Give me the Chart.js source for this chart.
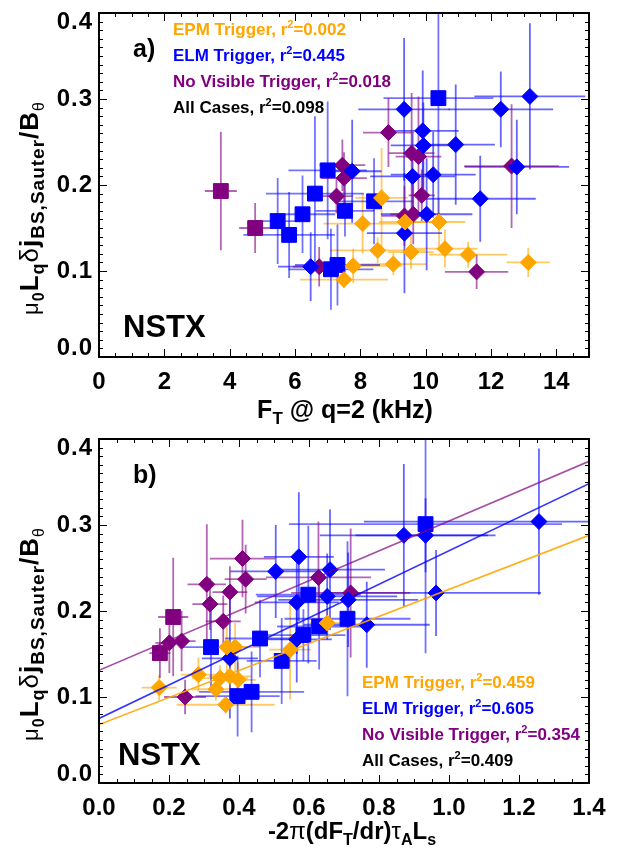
<!DOCTYPE html>
<html>
<head>
<meta charset="utf-8">
<script src="https://cdn.jsdelivr.net/npm/chart.js@4.4.1/dist/chart.umd.min.js"></script>
<style>
  html, body { margin: 0; padding: 0; background: #fff; }
  #wrap { position: relative; width: 621px; height: 852px; }
  canvas { position: absolute; left: 0; }
</style>
</head>
<body>
<div id="wrap">
  <canvas id="chartA" width="621" height="426" style="top:0"></canvas>
  <canvas id="chartB" width="621" height="426" style="top:426px"></canvas>
</div>
<script>
// ---------- panel a) : F_T @ q=2 (kHz) ----------
const epmA_x  = [7.50, 7.78, 8.07, 8.65, 8.53, 9.01, 9.55, 9.37, 10.41, 10.59, 11.30, 13.14];
const epmA_y  = [0.090, 0.106, 0.155, 0.185, 0.124, 0.108, 0.122, 0.157, 0.157, 0.126, 0.119, 0.110];
const epmA_xe = [1.35, 1.5, 1.2, 0.8, 1.45, 1.0, 0.7, 0.8, 0.8, 1.0, 1.2, 0.66];
const epmA_ye = [0.010, 0.020, 0.035, 0.058, 0.015, 0.013, 0.020, 0.015, 0.028, 0.022, 0.015, 0.017];

const elmSqA_x  = [5.47, 5.82, 6.23, 6.61, 7.00, 7.10, 7.30, 7.53, 8.42, 10.39];
const elmSqA_y  = [0.158, 0.142, 0.166, 0.190, 0.217, 0.102, 0.107, 0.170, 0.181, 0.301];
const elmSqA_xe = [0.7, 1.4, 1.0, 1.5, 1.2, 1.3, 1.3, 0.9, 1.2, 1.68];
const elmSqA_ye = [0.050, 0.050, 0.045, 0.090, 0.080, 0.047, 0.047, 0.030, 0.050, 0.150];

const elmDiA_x  = [6.48, 7.75, 9.35, 10.03, 11.67, 12.79, 9.60, 10.23, 9.34, 12.30, 13.19, 9.91, 9.93, 10.92];
const elmDiA_y  = [0.105, 0.216, 0.144, 0.166, 0.184, 0.221, 0.210, 0.212, 0.288, 0.288, 0.303, 0.263, 0.246, 0.247];
const elmDiA_xe = [1.0, 0.9, 1.15, 1.4, 1.7, 1.6, 1.3, 1.3, 1.4, 1.6, 1.7, 1.1, 1.0, 1.2];
const elmDiA_ye = [0.040, 0.060, 0.070, 0.065, 0.050, 0.055, 0.050, 0.050, 0.083, 0.044, 0.085, 0.070, 0.050, 0.070];

const nvSqA_x  = [3.73, 4.78];
const nvSqA_y  = [0.193, 0.150];
const nvSqA_xe = [0.49, 0.49];
const nvSqA_ye = [0.069, 0.029];

const nvDiA_x  = [6.74, 7.27, 7.45, 7.50, 9.35, 9.62, 11.56, 9.88, 12.63, 8.86, 9.57, 9.78];
const nvDiA_y  = [0.105, 0.187, 0.223, 0.208, 0.164, 0.166, 0.099, 0.188, 0.222, 0.261, 0.237, 0.233];
const nvDiA_xe = [0.8, 0.5, 0.7, 0.7, 0.7, 0.7, 0.97, 0.4, 1.45, 0.78, 0.7, 0.7];
const nvDiA_ye = [0.023, 0.020, 0.030, 0.030, 0.035, 0.035, 0.020, 0.030, 0.072, 0.040, 0.070, 0.070];

// ---------- panel b) : -2pi(dF_T/dr) tau_A L_s ----------
const epmB_x  = [0.172, 0.365, 0.389, 0.284, 0.346, 0.374, 0.398, 0.334, 0.362, 0.546, 0.652];
const epmB_y  = [0.111, 0.158, 0.158, 0.126, 0.122, 0.124, 0.120, 0.109, 0.091, 0.155, 0.186];
const epmB_xe = [0.05, 0.06, 0.07, 0.05, 0.08, 0.06, 0.05, 0.07, 0.14, 0.06, 0.05];
const epmB_ye = [0.015, 0.035, 0.028, 0.020, 0.015, 0.022, 0.020, 0.013, 0.010, 0.058, 0.015];

const elmSqB_x  = [0.320, 0.396, 0.436, 0.460, 0.522, 0.584, 0.598, 0.629, 0.710, 0.933];
const elmSqB_y  = [0.158, 0.101, 0.106, 0.168, 0.142, 0.172, 0.219, 0.182, 0.191, 0.301];
const elmSqB_xe = [0.09, 0.12, 0.15, 0.10, 0.10, 0.12, 0.15, 0.12, 0.18, 0.39];
const elmSqB_ye = [0.050, 0.047, 0.047, 0.045, 0.050, 0.030, 0.080, 0.050, 0.090, 0.150];

const elmDiB_x  = [0.374, 0.505, 0.565, 0.565, 0.571, 0.652, 0.660, 0.712, 0.765, 0.871, 0.933, 0.963, 1.257];
const elmDiB_y  = [0.145, 0.246, 0.167, 0.210, 0.263, 0.217, 0.248, 0.213, 0.184, 0.288, 0.288, 0.221, 0.304];
const elmDiB_xe = [0.08, 0.13, 0.10, 0.12, 0.10, 0.20, 0.157, 0.20, 0.18, 0.24, 0.20, 0.30, 0.50];
const elmDiB_ye = [0.070, 0.054, 0.050, 0.060, 0.075, 0.050, 0.070, 0.055, 0.050, 0.083, 0.043, 0.050, 0.085];

const nvSqB_x  = [0.174, 0.212];
const nvSqB_y  = [0.151, 0.193];
const nvSqB_xe = [0.03, 0.043];
const nvSqB_ye = [0.029, 0.069];

const nvDiB_x  = [0.201, 0.236, 0.246, 0.308, 0.317, 0.355, 0.374, 0.410, 0.419, 0.627, 0.719];
const nvDiB_y  = [0.163, 0.165, 0.100, 0.231, 0.208, 0.188, 0.222, 0.261, 0.237, 0.239, 0.221];
const nvDiB_xe = [0.04, 0.04, 0.06, 0.055, 0.05, 0.05, 0.05, 0.093, 0.06, 0.15, 0.17];
const nvDiB_ye = [0.035, 0.035, 0.020, 0.070, 0.030, 0.030, 0.030, 0.045, 0.040, 0.065, 0.075];

// linear fits in panel b (values at the two ends of the axis)
const fitX      = [0, 1.4];
const epmFitB   = [0.068, 0.288];
const elmFitB   = [0.075, 0.348];
const nvFitB    = [0.131, 0.374];

// legend text
const legendNames  = ['EPM Trigger', 'ELM Trigger', 'No Visible Trigger', 'All Cases'];
const legendColors = ['#FFA500', '#0000FF', '#800080', '#000000'];
const r2A = ['0.002', '0.445', '0.018', '0.098'];
const r2B = ['0.459', '0.605', '0.354', '0.409'];
const yTicks = [0, 0.1, 0.2, 0.3, 0.4];

const FAM = '"Liberation Sans", Arial, Helvetica, sans-serif';
const ORANGE = '#FFA500', BLUE = '#0000FF', PURPLE = '#800080';

function pts(xs, ys, xe, ye) {
    return xs.map((x, i) => ({ x: x, y: ys[i], xe: xe[i], ye: ye[i] }));
}

function markers(label, data, color, errColor, style) {
    const r = style === 'rect' ? 10.5 : 8;
    return {
        label: label,
        data: data,
        pointStyle: style,
        pointRadius: r,
        pointHoverRadius: r,
        backgroundColor: color,
        borderColor: color,
        borderWidth: 1,
        errColor: errColor
    };
}

function fitLine(label, ys, color) {
    return {
        label: label,
        data: fitX.map((x, i) => ({ x: x, y: ys[i] })),
        showLine: true,
        pointRadius: 0,
        borderColor: color,
        borderWidth: 1.6,
        fill: false
    };
}

// draws a run of text pieces [text, font, dy]
function drawParts(ctx, parts, x, y, align, spacing) {
    ctx.letterSpacing = spacing || '0px';
    let w = 0;
    parts.forEach(p => { ctx.font = p[1]; w += ctx.measureText(p[0]).width; });
    let cx = align === 'center' ? x - w / 2 : x;
    ctx.textAlign = 'left';
    ctx.textBaseline = 'alphabetic';
    parts.forEach(p => {
        ctx.font = p[1];
        ctx.fillText(p[0], cx, y + (p[2] || 0));
        cx += ctx.measureText(p[0]).width;
    });
    ctx.letterSpacing = '0px';
}

// error bars, drawn under the markers
const errorBars = {
    id: 'errorBars',
    beforeDatasetsDraw(chart) {
        const ctx = chart.ctx, a = chart.chartArea;
        const xs = chart.scales.x, ys = chart.scales.y;
        ctx.save();
        ctx.beginPath();
        ctx.rect(a.left, a.top, a.right - a.left, a.bottom - a.top);
        ctx.clip();
        ctx.lineWidth = 1.8;
        chart.data.datasets.forEach(ds => {
            if (!ds.errColor) return;
            ctx.strokeStyle = ds.errColor;
            ds.data.forEach(p => {
                const px = xs.getPixelForValue(p.x), py = ys.getPixelForValue(p.y);
                ctx.beginPath();
                ctx.moveTo(xs.getPixelForValue(p.x - p.xe), py);
                ctx.lineTo(xs.getPixelForValue(p.x + p.xe), py);
                ctx.moveTo(px, ys.getPixelForValue(p.y - p.ye));
                ctx.lineTo(px, ys.getPixelForValue(p.y + p.ye));
                ctx.stroke();
            });
        });
        ctx.restore();
    }
};

const yTitle = [
    ['\u03bc', '22px ' + FAM, 0],
    ['0', 'bold 16px ' + FAM, 6],
    ['L', 'bold 26px ' + FAM, 0],
    ['q', 'bold 18px ' + FAM, 6],
    ['\u03b4', '26px ' + FAM, 0],
    ['j', 'bold 26px ' + FAM, 0],
    ['BS,Sauter', 'bold 19px ' + FAM, 6],
    ['/B', 'bold 26px ' + FAM, 0],
    ['\u03b8', '16px ' + FAM, 6]
];

function decor(cfg) {
    return {
        id: 'decor',
        afterDraw(chart) {
            const ctx = chart.ctx, a = chart.chartArea;
            const xs = chart.scales.x, ys = chart.scales.y;
            ctx.save();
            // frame
            ctx.strokeStyle = '#000';
            ctx.lineWidth = 2;
            ctx.strokeRect(a.left, a.top, a.right - a.left, a.bottom - a.top);
            // inward ticks on all four sides
            ctx.lineWidth = 1;
            ctx.beginPath();
            const nx = Math.round(cfg.xMax / cfg.xMinor);
            for (let i = 0; i <= nx; i++) {
                const v = i * cfg.xMinor;
                const r = v / cfg.xMajor;
                const len = Math.abs(r - Math.round(r)) < 1e-6 ? 8 : 4;
                const px = Math.round(xs.getPixelForValue(v)) + 0.5;
                ctx.moveTo(px, a.bottom); ctx.lineTo(px, a.bottom - len);
                ctx.moveTo(px, a.top); ctx.lineTo(px, a.top + len);
            }
            for (let i = 0; i <= 40; i++) {
                const len = i % 10 === 0 ? 8 : 4;
                const py = Math.round(ys.getPixelForValue(i * 0.01)) + 0.5;
                ctx.moveTo(a.left, py); ctx.lineTo(a.left + len, py);
                ctx.moveTo(a.right, py); ctx.lineTo(a.right - len, py);
            }
            ctx.stroke();

            // y tick labels (end labels pulled inside)
            ctx.fillStyle = '#000';
            ctx.font = 'bold 24px ' + FAM;
            ctx.letterSpacing = '1px';
            ctx.textAlign = 'right';
            ctx.textBaseline = 'middle';
            yTicks.forEach((v, i) => {
                let py = ys.getPixelForValue(v);
                if (i === 0) py -= 9;
                if (i === yTicks.length - 1) py += 9;
                ctx.fillText(v.toFixed(1), 93, py);
            });
            ctx.letterSpacing = '0px';

            // y title
            ctx.save();
            ctx.translate(38, 208);
            ctx.rotate(-Math.PI / 2);
            drawParts(ctx, yTitle, 0, 0, 'center', '1px');
            ctx.restore();

            // x title
            drawParts(ctx, cfg.xTitle, cfg.xTitleX, cfg.xTitleY, 'center');

            // panel tag and NSTX
            ctx.font = 'bold 25px ' + FAM;
            ctx.textAlign = 'left';
            ctx.textBaseline = 'alphabetic';
            ctx.fillText(cfg.tag, 133, 57);
            ctx.font = 'bold 31px ' + FAM;
            ctx.fillText('NSTX', cfg.nstx[0], cfg.nstx[1]);

            // r^2 legend
            legendNames.forEach((name, i) => {
                ctx.fillStyle = legendColors[i];
                drawParts(ctx, [
                    [name + ', r', 'bold 17px ' + FAM, 0],
                    ['2', 'bold 11px ' + FAM, -7],
                    ['=' + cfg.r2[i], 'bold 17px ' + FAM, 0]
                ], cfg.legend[0], cfg.legend[1] + i * 26, 'left');
            });
            ctx.restore();
        }
    };
}

function makeChart(id, datasets, xMax, xStep, xFmt, cfg) {
    return new Chart(document.getElementById(id), {
        type: 'scatter',
        data: { datasets: datasets },
        options: {
            responsive: false,
            animation: false,
            layout: { padding: { left: 0, right: 32, top: 13, bottom: 0 } },
            plugins: { legend: { display: false }, tooltip: { enabled: false } },
            scales: {
                x: {
                    min: 0, max: xMax,
                    grid: { display: false, drawTicks: false },
                    border: { display: false },
                    ticks: {
                        stepSize: xStep, includeBounds: false, autoSkip: false, maxRotation: 0,
                        padding: 11, color: '#000',
                        font: { family: FAM, size: 24, weight: 'bold' },
                        callback: xFmt
                    },
                    afterFit: s => { s.height = 69; }
                },
                y: {
                    min: 0, max: 0.4,
                    grid: { display: false, drawTicks: false },
                    border: { display: false },
                    ticks: { display: false },
                    afterFit: s => { s.width = 99; }
                }
            }
        },
        plugins: [errorBars, decor(cfg)]
    });
}

makeChart('chartA', [
    markers('EPM Trigger', pts(epmA_x, epmA_y, epmA_xe, epmA_ye), ORANGE, 'rgba(255,165,0,0.6)', 'rectRot'),
    markers('ELM Trigger', pts(elmSqA_x, elmSqA_y, elmSqA_xe, elmSqA_ye), BLUE, 'rgba(0,0,255,0.55)', 'rect'),
    markers('ELM Trigger', pts(elmDiA_x, elmDiA_y, elmDiA_xe, elmDiA_ye), BLUE, 'rgba(0,0,255,0.6)', 'rectRot'),
    markers('No Visible Trigger', pts(nvSqA_x, nvSqA_y, nvSqA_xe, nvSqA_ye), PURPLE, 'rgba(128,0,128,0.6)', 'rect'),
    markers('No Visible Trigger', pts(nvDiA_x, nvDiA_y, nvDiA_xe, nvDiA_ye), PURPLE, 'rgba(128,0,128,0.6)', 'rectRot')
], 15, 2, v => String(v), {
    tag: 'a)', xMax: 15, xMajor: 2, xMinor: 0.5, r2: r2A,
    legend: [173, 35], nstx: [123, 337],
    xTitleX: 345, xTitleY: 418,
    xTitle: [
        ['F', 'bold 25px ' + FAM, 0],
        ['T', 'bold 17px ' + FAM, 6],
        [' @ q=2 (kHz)', 'bold 25px ' + FAM, 0]
    ]
});

makeChart('chartB', [
    fitLine('EPM fit', epmFitB, 'rgba(255,165,0,0.9)'),
    fitLine('ELM fit', elmFitB, 'rgba(0,0,255,0.8)'),
    fitLine('No Visible fit', nvFitB, 'rgba(128,0,128,0.7)'),
    markers('EPM Trigger', pts(epmB_x, epmB_y, epmB_xe, epmB_ye), ORANGE, 'rgba(255,165,0,0.6)', 'rectRot'),
    markers('ELM Trigger', pts(elmSqB_x, elmSqB_y, elmSqB_xe, elmSqB_ye), BLUE, 'rgba(0,0,255,0.55)', 'rect'),
    markers('ELM Trigger', pts(elmDiB_x, elmDiB_y, elmDiB_xe, elmDiB_ye), BLUE, 'rgba(0,0,255,0.6)', 'rectRot'),
    markers('No Visible Trigger', pts(nvSqB_x, nvSqB_y, nvSqB_xe, nvSqB_ye), PURPLE, 'rgba(128,0,128,0.6)', 'rect'),
    markers('No Visible Trigger', pts(nvDiB_x, nvDiB_y, nvDiB_xe, nvDiB_ye), PURPLE, 'rgba(128,0,128,0.6)', 'rectRot')
], 1.4, 0.2, v => v.toFixed(1), {
    tag: 'b)', xMax: 1.4, xMajor: 0.2, xMinor: 0.05, r2: r2B,
    legend: [362, 262], nstx: [118, 339],
    xTitleX: 352, xTitleY: 413,
    xTitle: [
        ['-2', 'bold 24px ' + FAM, 0],
        ['\u03c0', '24px ' + FAM, 0],
        ['(dF', 'bold 24px ' + FAM, 0],
        ['T', 'bold 16px ' + FAM, 6],
        ['/dr)', 'bold 24px ' + FAM, 0],
        ['\u03c4', '24px ' + FAM, 0],
        ['A', 'bold 16px ' + FAM, 6],
        ['L', 'bold 24px ' + FAM, 0],
        ['s', 'bold 16px ' + FAM, 6]
    ]
});
</script>
</body>
</html>
